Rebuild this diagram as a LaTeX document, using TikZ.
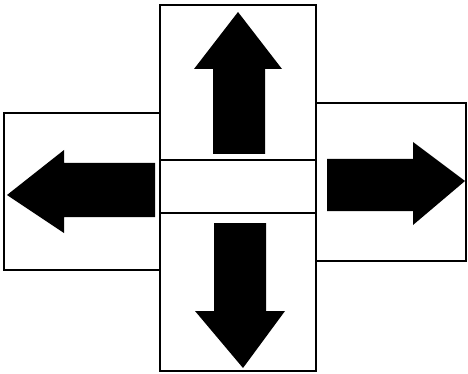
\documentclass[tikz,border=0pt]{standalone}
\usetikzlibrary{positioning}
\begin{document}
\begin{tikzpicture}[x=1pt, y=-1pt,
    box/.style={draw, line width=1.1pt, inner sep=0pt, outer sep=0pt},
    arrowfill/.style={fill=black}]
  \useasboundingbox (0,0) rectangle (468,374);
  % Boxes
  \node[box, minimum width=156pt, minimum height=155pt] (topbox) at (238,82.5) {};
  \node[box, minimum width=156pt, minimum height=53pt] (midbox) at (238,186.5) {};
  \node[box, minimum width=156pt, minimum height=158pt] (botbox) at (238,292) {};
  \node[box, minimum width=156pt, minimum height=157pt] (leftbox) at (82,191.5) {};
  \node[box, minimum width=150pt, minimum height=158pt] (rightbox) at (391,182) {};
  % Up arrow
  \fill[arrowfill] (238,12) -- (282,69) -- (265,69) -- (265,154)
    -- (213,154) -- (213,69) -- (194,69) -- cycle;
  % Down arrow
  \fill[arrowfill] (243,368) -- (285,311) -- (266,311) -- (266,223)
    -- (214,223) -- (214,311) -- (195,311) -- cycle;
  % Left arrow
  \fill[arrowfill] (7,195) -- (64,150) -- (64,163) -- (155,163)
    -- (155,217) -- (64,217) -- (64,233) -- cycle;
  % Right arrow
  \fill[arrowfill] (465,181) -- (413,142) -- (413,159) -- (327,159)
    -- (327,211) -- (413,211) -- (413,225) -- cycle;
\end{tikzpicture}
\end{document}
